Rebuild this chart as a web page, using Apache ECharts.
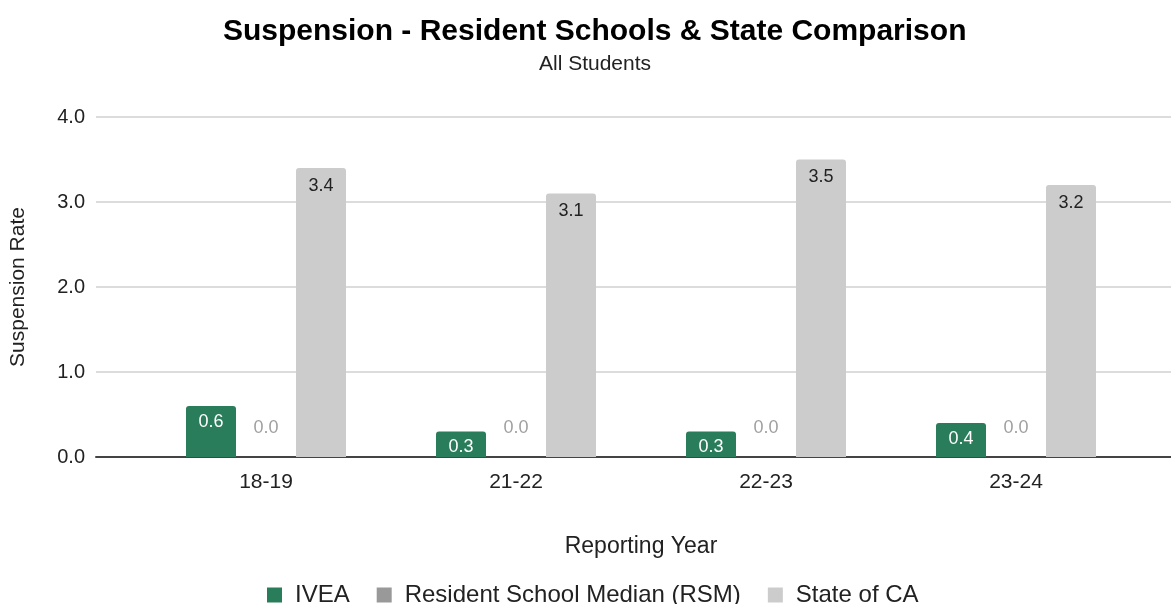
<!DOCTYPE html>
<html>
<head>
<meta charset="utf-8">
<script src="https://cdn.jsdelivr.net/npm/echarts@6/dist/echarts.min.js"></script>
<style>
html,body{margin:0;padding:0;background:#fff;}
#chart{width:1171px;height:604px;}
</style>
</head>
<body>
<div id="chart"></div>
<script>
const categories = ['18-19', '21-22', '22-23', '23-24'];
const ivea = [0.6, 0.3, 0.3, 0.4];
const rsm = [0.0, 0.0, 0.0, 0.0];
const stateCA = [3.4, 3.1, 3.5, 3.2];
const yTicks = [0, 1, 2, 3, 4];

const FONT = '"Liberation Sans", Arial, sans-serif';
const chart = echarts.init(document.getElementById('chart'));
const fmt = p => Number(p.value).toFixed(1);

chart.setOption({
  animation: false,
  textStyle: { fontFamily: FONT },
  title: [
    {
      text: 'Suspension - Resident Schools & State Comparison',
      left: 218,
      top: 12,
      textStyle: { fontFamily: FONT, fontSize: 30, fontWeight: 'bold', color: '#000' }
    },
    {
      text: 'All Students',
      left: 534,
      top: 49,
      textStyle: { fontFamily: FONT, fontSize: 21, fontWeight: 'normal', color: '#222' }
    }
  ],
  legend: {
    top: 578,
    left: 262,
    icon: 'rect',
    itemWidth: 15,
    itemHeight: 15,
    itemGap: 27,
    textStyle: { fontFamily: FONT, fontSize: 24, color: '#222', padding: [0, 0, 0, 8] },
    data: ['IVEA', 'Resident School Median (RSM)', 'State of CA']
  },
  grid: [
    { left: 141, width: 1000, top: 117, bottom: 147 },
    { left: 96, right: 0, top: 117, bottom: 147 }
  ],
  xAxis: [
    {
      gridIndex: 0, type: 'category', data: categories,
      axisLine: { show: false }, axisTick: { show: false },
      axisLabel: { fontFamily: FONT, fontSize: 21, color: '#222', margin: 15 },
      name: 'Reporting Year', nameLocation: 'middle', nameGap: 78,
      nameTextStyle: { fontFamily: FONT, fontSize: 23, color: '#222' }
    },
    {
      gridIndex: 1, type: 'value', min: 0, max: 1,
      axisLine: { show: true, lineStyle: { color: '#444', width: 2 } },
      axisTick: { show: false }, axisLabel: { show: false }, splitLine: { show: false }
    }
  ],
  yAxis: [
    {
      gridIndex: 0, type: 'value', min: yTicks[0], max: yTicks[yTicks.length - 1], interval: 1,
      axisLine: { show: false }, axisTick: { show: false }, axisLabel: { show: false },
      splitLine: { show: false }
    },
    {
      gridIndex: 1, type: 'value', min: yTicks[0], max: yTicks[yTicks.length - 1], interval: 1,
      axisLine: { show: false }, axisTick: { show: false },
      axisLabel: { fontFamily: FONT, fontSize: 20, color: '#222', margin: 11, formatter: v => v.toFixed(1) },
      splitLine: { show: true, lineStyle: { color: '#dcdcdc', width: 2 } },
      name: 'Suspension Rate', nameLocation: 'middle', nameGap: 67, nameRotate: 90,
      nameTextStyle: { fontFamily: FONT, fontSize: 21, color: '#222' }
    }
  ],
  series: [
    {
      name: 'IVEA', type: 'bar', xAxisIndex: 0, yAxisIndex: 0, data: ivea,
      barWidth: 50, barGap: '10%',
      itemStyle: { color: '#2a7d5b', borderRadius: [3, 3, 0, 0] },
      label: { show: true, position: 'insideTop', distance: 7, color: '#fff', fontFamily: FONT, fontSize: 18, formatter: fmt }
    },
    {
      name: 'Resident School Median (RSM)', type: 'bar', xAxisIndex: 0, yAxisIndex: 0, data: rsm,
      barWidth: 50, barGap: '10%',
      itemStyle: { color: '#999999', borderRadius: [3, 3, 0, 0] },
      label: { show: true, position: 'top', distance: 20, color: '#a0a0a0', fontFamily: FONT, fontSize: 18, formatter: fmt }
    },
    {
      name: 'State of CA', type: 'bar', xAxisIndex: 0, yAxisIndex: 0, data: stateCA,
      barWidth: 50, barGap: '10%',
      itemStyle: { color: '#cccccc', borderRadius: [3, 3, 0, 0] },
      label: { show: true, position: 'insideTop', distance: 9, color: '#222', fontFamily: FONT, fontSize: 18, formatter: fmt }
    }
  ]
});
</script>
</body>
</html>
